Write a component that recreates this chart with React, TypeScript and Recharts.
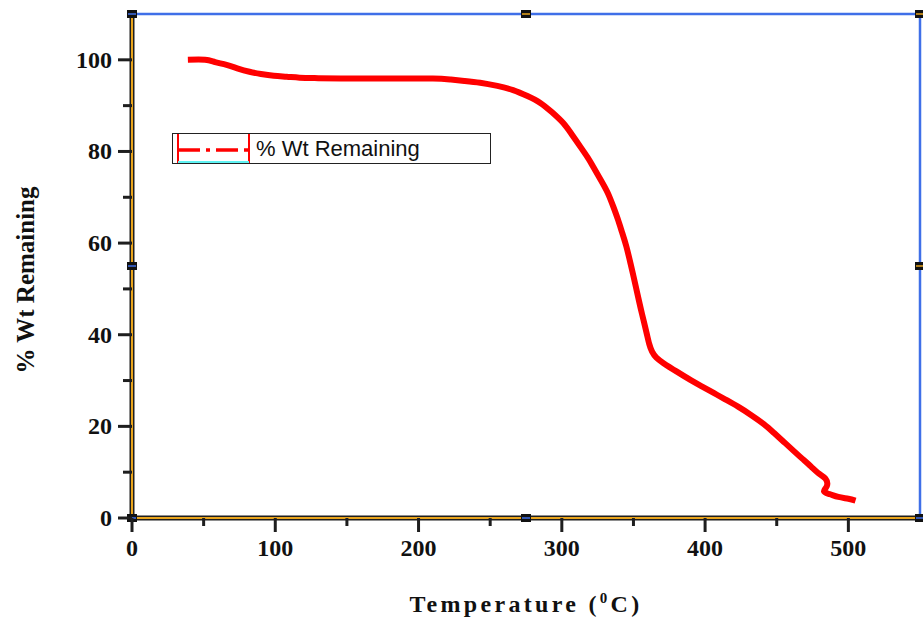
import React from 'react'
import {
  LineChart,
  Line,
  XAxis,
  YAxis,
  Legend,
  ReferenceLine,
  ReferenceDot,
  Label,
} from 'recharts'

// TGA run: temperature (°C) vs. % weight remaining
const temperature = [
  39, 51, 58, 66, 74, 82, 90, 99, 108, 117, 130, 150, 170, 190, 210, 222, 232,
  243, 255, 266, 276, 285, 293, 301, 307, 313, 318, 322, 327, 332, 336, 339,
  342, 345, 348, 350, 352, 354, 356, 359, 361, 363, 366, 371, 380, 390, 398,
  406, 414, 423, 432, 441, 448, 455, 462, 468, 474, 479, 484, 485, 483, 487,
  493, 500, 505,
]
const wtRemaining = [
  100, 100, 99.5, 98.9, 98.1, 97.4, 96.9, 96.5, 96.3, 96.1, 96.0, 95.9, 95.9,
  95.9, 95.9, 95.7, 95.4, 95.0, 94.3, 93.4, 92.1, 90.6, 88.6, 86.2, 83.7, 81.0,
  78.7, 76.6, 73.9, 71.0, 67.9, 65.3, 62.4, 59.3, 55.5, 52.8, 50.0, 47.2, 44.5,
  40.6, 38.0, 36.3, 35.0, 33.8, 32.0, 30.1, 28.7, 27.3, 25.9, 24.3, 22.5, 20.5,
  18.6, 16.6, 14.6, 12.9, 11.2, 9.8, 8.6, 7.0, 5.8, 5.2, 4.6, 4.2, 3.8,
]
const xTicks = [0, 50, 100, 150, 200, 250, 300, 350, 400, 450, 500]
const yTicks = [0, 10, 20, 30, 40, 50, 60, 70, 80, 90, 100]

const data = temperature.map((t, i) => ({ t, w: wtRemaining[i] }))

const SERIF = '"Times New Roman", "Liberation Serif", serif'
const AXIS_BLACK = '#1e1e1e'
const AXIS_GOLD = '#e9a41c'
const FRAME_BLUE = '#3f6fe8'

function XTick({ x, y, payload }: any) {
  const major = payload.value % 100 === 0
  return (
    <g>
      <line x1={x} x2={x} y1={y} y2={y + (major ? 14 : 8)} stroke={AXIS_BLACK} strokeWidth={3} />
      {major && (
        <text
          x={x}
          y={y + 38}
          textAnchor="middle"
          fontFamily={SERIF}
          fontWeight="bold"
          fontSize={24}
          fill="#111"
        >
          {payload.value}
        </text>
      )}
    </g>
  )
}

function YTick({ x, y, payload }: any) {
  const major = payload.value % 20 === 0
  return (
    <g>
      <line x1={x} x2={x - (major ? 14 : 9)} y1={y} y2={y} stroke={AXIS_BLACK} strokeWidth={3} />
      {major && (
        <text
          x={x - 20}
          y={y + 8}
          textAnchor="end"
          fontFamily={SERIF}
          fontWeight="bold"
          fontSize={24}
          fill="#111"
        >
          {payload.value}
        </text>
      )}
    </g>
  )
}

// small square markers sitting on the frame corners / midpoints
function Handle({ cx, cy, accent }: any) {
  if (cx == null || cy == null) return null
  return (
    <g>
      <rect x={cx - 5} y={cy - 4} width={10} height={8} fill="#111" />
      <line x1={cx - 4} x2={cx + 4} y1={cy} y2={cy} stroke={accent} strokeWidth={1.5} />
    </g>
  )
}

function LegendBox() {
  return (
    <div
      style={{
        display: 'flex',
        alignItems: 'center',
        width: 317,
        height: 29,
        border: '1.5px solid #222',
        background: '#fff',
        boxSizing: 'content-box',
      }}
    >
      <svg width={80} height={29} style={{ display: 'block' }}>
        <line x1={5} x2={5} y1={0} y2={29} stroke="#ff0000" strokeWidth={2} />
        <line x1={76} x2={76} y1={0} y2={29} stroke="#ff0000" strokeWidth={2} />
        <line x1={5} x2={76} y1={28} y2={28} stroke="#5ff3f3" strokeWidth={2} />
        <line
          x1={5}
          x2={76}
          y1={16}
          y2={16}
          stroke="#ff0000"
          strokeWidth={3.5}
          strokeDasharray="22 6 4 6"
        />
      </svg>
      <span
        style={{
          fontFamily: 'Arial, "Liberation Sans", sans-serif',
          fontSize: 22,
          color: '#111',
          marginLeft: 3,
          whiteSpace: 'nowrap',
        }}
      >
        % Wt Remaining
      </span>
    </div>
  )
}

export default function App() {
  return (
    <div style={{ position: 'absolute', left: 0, top: 0, width: 923, height: 620, background: '#fff' }}>
      <LineChart width={923} height={620} data={data} margin={{ top: 14, right: 3, bottom: 0, left: 0 }}>
        <XAxis
          dataKey="t"
          type="number"
          domain={[0, 550]}
          ticks={xTicks}
          interval={0}
          allowDataOverflow
          axisLine={false}
          tickLine={false}
          tickSize={0}
          tickMargin={0}
          height={102}
          tick={<XTick />}
        >
          <Label
            content={({ viewBox }: any) => (
              <text
                x={viewBox.x + viewBox.width / 2}
                y={612}
                textAnchor="middle"
                fontFamily={SERIF}
                fontWeight="bold"
                fontSize={24}
                letterSpacing={3.3}
                fill="#111"
              >
                Temperature (<tspan dy={-9} fontSize={15}>0</tspan>
                <tspan dy={9}>C)</tspan>
              </text>
            )}
          />
        </XAxis>
        <YAxis
          type="number"
          domain={[0, 110]}
          ticks={yTicks}
          interval={0}
          axisLine={false}
          tickLine={false}
          tickSize={0}
          tickMargin={0}
          width={132}
          tick={<YTick />}
        >
          <Label
            content={() => (
              <text
                x={25}
                y={280}
                transform="rotate(-90, 25, 280)"
                textAnchor="middle"
                dominantBaseline="central"
                fontFamily={SERIF}
                fontWeight="bold"
                fontSize={25}
                fill="#111"
              >
                % Wt Remaining
              </text>
            )}
          />
        </YAxis>

        {/* blue frame on top and right */}
        <ReferenceLine y={110} stroke={FRAME_BLUE} strokeWidth={2.5} />
        <ReferenceLine x={550} stroke={FRAME_BLUE} strokeWidth={2.5} />
        {/* black/gold axis lines on left and bottom */}
        <ReferenceLine x={0} stroke={AXIS_BLACK} strokeWidth={5} />
        <ReferenceLine x={0} stroke={AXIS_GOLD} strokeWidth={2} />
        <ReferenceLine y={0} stroke={AXIS_BLACK} strokeWidth={5} />
        <ReferenceLine y={0} stroke={AXIS_GOLD} strokeWidth={2} />

        <Line
          dataKey="w"
          type="natural"
          stroke="#ff0000"
          strokeWidth={6}
          strokeLinejoin="round"
          strokeLinecap="butt"
          dot={false}
          activeDot={false}
          isAnimationActive={false}
        />

        <ReferenceDot x={0} y={110} r={5} shape={<Handle accent={FRAME_BLUE} />} />
        <ReferenceDot x={275} y={110} r={5} shape={<Handle accent={AXIS_GOLD} />} />
        <ReferenceDot x={550} y={110} r={5} shape={<Handle accent={AXIS_GOLD} />} />
        <ReferenceDot x={0} y={55} r={5} shape={<Handle accent={FRAME_BLUE} />} />
        <ReferenceDot x={550} y={55} r={5} shape={<Handle accent={AXIS_GOLD} />} />
        <ReferenceDot x={0} y={0} r={5} shape={<Handle accent={FRAME_BLUE} />} />
        <ReferenceDot x={275} y={0} r={5} shape={<Handle accent={FRAME_BLUE} />} />
        <ReferenceDot x={550} y={0} r={5} shape={<Handle accent={FRAME_BLUE} />} />

        <Legend
          layout="vertical"
          align="center"
          verticalAlign="middle"
          wrapperStyle={{ left: 172, top: 133, width: 'auto' }}
          content={() => <LegendBox />}
        />
      </LineChart>
    </div>
  )
}
